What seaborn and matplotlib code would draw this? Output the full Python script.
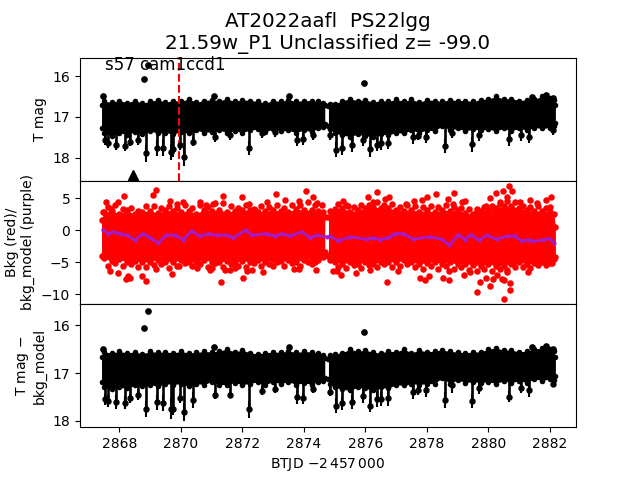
import matplotlib
matplotlib.use("Agg")
import matplotlib.pyplot as plt
import seaborn as sns

# sampled band (two runs of the light curve, split by the data gap)
t_seg1 = [2867.42, 2867.50, 2867.75, 2868.00, 2868.25, 2868.50, 2868.75, 2869.00, 2869.25, 2869.50, 2869.75,
          2870.00, 2870.25, 2870.50, 2870.75, 2871.00, 2871.25, 2871.50, 2871.75, 2872.00, 2872.25,
          2872.50, 2872.75, 2873.00, 2873.25, 2873.50, 2873.75, 2874.00, 2874.25, 2874.45, 2874.62, 2874.68]
t_seg2 = [2874.80, 2874.85, 2875.00, 2875.25, 2875.50, 2875.75, 2876.00, 2876.25, 2876.50, 2876.75, 2877.00,
          2877.25, 2877.50, 2877.75, 2878.00, 2878.25, 2878.50, 2878.75, 2879.00, 2879.25, 2879.50,
          2879.75, 2880.00, 2880.25, 2880.50, 2880.75, 2881.00, 2881.25, 2881.50, 2881.75, 2882.00, 2882.13, 2882.18]

top1_seg1 = [16.72, 16.62, 16.64, 16.60, 16.65, 16.60, 16.66, 16.62, 16.58, 16.64, 16.60,
             16.62, 16.56, 16.64, 16.60, 16.58, 16.60, 16.56, 16.62, 16.58, 16.60,
             16.62, 16.66, 16.60, 16.62, 16.58, 16.62, 16.60, 16.60, 16.62, 16.66, 16.72]
bot1_seg1 = [17.28, 17.40, 17.46, 17.38, 17.44, 17.36, 17.42, 17.34, 17.40, 17.38, 17.42,
             17.36, 17.40, 17.32, 17.38, 17.36, 17.32, 17.38, 17.34, 17.38, 17.32,
             17.30, 17.36, 17.30, 17.34, 17.33, 17.38, 17.32, 17.36, 17.28, 17.24, 17.18]
top1_seg2 = [16.74, 16.69, 16.68, 16.60, 16.56, 16.60, 16.58, 16.64, 16.60, 16.62, 16.57,
             16.62, 16.57, 16.64, 16.58, 16.60, 16.62, 16.58, 16.60, 16.60, 16.62,
             16.58, 16.56, 16.50, 16.56, 16.55, 16.60, 16.58, 16.56, 16.50, 16.54, 16.58, 16.70]
bot1_seg2 = [17.22, 17.30, 17.40, 17.44, 17.48, 17.42, 17.46, 17.48, 17.42, 17.44, 17.38,
             17.40, 17.32, 17.38, 17.32, 17.34, 17.22, 17.32, 17.28, 17.34, 17.30,
             17.32, 17.30, 17.34, 17.28, 17.34, 17.28, 17.32, 17.26, 17.28, 17.26, 17.22, 17.16]

top3_seg1 = [16.66, 16.56, 16.58, 16.55, 16.58, 16.56, 16.60, 16.55, 16.57, 16.56, 16.58,
             16.55, 16.58, 16.57, 16.55, 16.56, 16.54, 16.50, 16.56, 16.52, 16.58,
             16.60, 16.58, 16.56, 16.57, 16.54, 16.57, 16.55, 16.56, 16.58, 16.62, 16.68]
bot3_seg1 = [17.18, 17.30, 17.34, 17.30, 17.32, 17.26, 17.28, 17.24, 17.28, 17.22, 17.24,
             17.22, 17.28, 17.22, 17.24, 17.18, 17.24, 17.24, 17.20, 17.24, 17.22,
             17.18, 17.24, 17.18, 17.22, 17.18, 17.24, 17.20, 17.24, 17.18, 17.16, 17.10]
top3_seg2 = [16.70, 16.63, 16.60, 16.58, 16.50, 16.55, 16.52, 16.57, 16.58, 16.54, 16.56,
             16.50, 16.58, 16.52, 16.56, 16.54, 16.52, 16.55, 16.56, 16.58, 16.56,
             16.56, 16.50, 16.48, 16.52, 16.52, 16.56, 16.54, 16.50, 16.48, 16.50, 16.55, 16.66]
bot3_seg2 = [17.12, 17.22, 17.30, 17.34, 17.36, 17.30, 17.32, 17.36, 17.30, 17.32, 17.24,
             17.26, 17.22, 17.24, 17.22, 17.22, 17.10, 17.22, 17.14, 17.20, 17.18,
             17.20, 17.18, 17.22, 17.16, 17.20, 17.16, 17.20, 17.12, 17.16, 17.12, 17.14, 17.06]

bkg_hi_seg1 = [1.6, 2.9, 3.0, 2.6, 3.1, 2.5, 2.9, 3.0, 2.7, 3.1, 3.0,
               2.8, 3.0, 2.6, 3.2, 3.0, 3.1, 2.9, 3.0, 3.1, 3.2,
               2.8, 3.0, 3.1, 3.0, 2.9, 3.3, 3.1, 3.2, 3.0, 2.9, 2.1]
bkg_lo_seg1 = [-4.0, -4.4, -4.8, -4.5, -5.0, -4.8, -5.0, -4.9, -4.6, -4.9, -4.9,
               -4.7, -4.9, -5.0, -4.6, -4.9, -5.0, -4.8, -4.9, -4.8, -4.9,
               -4.7, -4.9, -4.6, -4.8, -4.7, -4.9, -4.6, -4.4, -4.6, -4.2, -3.4]
bkg_hi_seg2 = [2.1, 3.0, 3.3, 3.5, 2.9, 3.1, 3.4, 3.6, 3.5, 3.4, 3.2,
               3.0, 3.2, 2.9, 3.1, 2.8, 3.2, 3.0, 3.1, 2.7, 2.6,
               3.0, 3.2, 3.5, 3.7, 3.8, 3.4, 3.1, 3.0, 3.0, 2.9, 2.6, 0.5]
bkg_lo_seg2 = [-4.0, -4.6, -5.0, -5.2, -5.0, -5.2, -5.0, -5.2, -5.0, -4.9, -5.0,
               -4.7, -5.0, -5.2, -5.1, -4.9, -5.2, -5.0, -5.3, -5.2, -5.4,
               -5.5, -5.3, -5.5, -5.5, -5.2, -5.0, -5.2, -5.1, -5.0, -5.1, -4.5, -4.2]

# loose edge of the background band
t_edge = [2867.62, 2867.87, 2868.12, 2868.37, 2868.62, 2868.87, 2869.12, 2869.37, 2869.62, 2869.87,
          2870.12, 2870.37, 2870.62, 2870.87, 2871.12, 2871.37, 2871.62, 2871.87, 2872.12, 2872.37,
          2872.62, 2872.87, 2873.12, 2873.37, 2873.62, 2873.87, 2874.12, 2874.37,
          2875.12, 2875.37, 2875.62, 2875.87, 2876.12, 2876.37, 2876.62, 2876.87, 2877.12, 2877.37,
          2877.62, 2877.87, 2878.12, 2878.37, 2878.62, 2878.87, 2879.12, 2879.37, 2879.62, 2879.87,
          2880.12, 2880.37, 2880.62, 2880.87, 2881.12, 2881.37, 2881.62, 2881.87]
bkg_edge_hi = [3.6, 3.9, 3.3, 3.4, 3.0, 3.7, 3.8, 3.5, 3.7, 3.4,
               3.9, 3.5, 3.9, 3.6, 4.2, 4.3, 3.8, 3.5, 3.9, 3.3,
               3.8, 3.6, 3.9, 3.5, 4.0, 3.9, 4.4, 4.0,
               4.1, 4.0, 3.6, 3.9, 4.0, 4.4, 4.0, 4.1, 3.6, 3.9,
               3.8, 3.6, 3.8, 3.6, 4.0, 3.6, 3.5, 3.3, 3.0, 3.6,
               3.8, 4.1, 4.5, 4.4, 3.8, 3.6, 3.7, 3.4]
bkg_edge_lo = [-5.5, -5.1, -5.6, -5.2, -5.7, -5.8, -5.4, -5.2, -5.9, -5.5,
               -5.1, -5.6, -5.2, -5.7, -5.1, -5.8, -5.2, -5.5, -5.7, -5.1,
               -5.6, -5.2, -5.0, -5.5, -5.1, -5.6, -5.0, -4.9,
               -5.8, -5.9, -5.4, -5.9, -5.4, -5.8, -5.3, -5.7, -5.6, -5.2,
               -5.8, -6.0, -5.5, -6.0, -5.6, -6.1, -5.8, -6.2, -6.3, -6.0,
               -6.3, -6.0, -6.2, -5.8, -5.7, -5.9, -5.4, -5.4]

# faint excursions below the band, with error bars
t_dip = [2867.54, 2867.64, 2867.89, 2868.19, 2868.35, 2868.62, 2868.87, 2869.24, 2869.43, 2869.67,
         2869.73, 2869.97, 2870.11, 2870.41, 2871.11, 2871.60, 2872.23, 2872.63, 2873.06, 2873.77,
         2873.96, 2874.31, 2874.85, 2875.06, 2875.23, 2875.58, 2875.91, 2876.15, 2876.37, 2876.51,
         2876.75, 2877.54, 2877.72, 2877.97, 2878.59, 2878.81, 2879.48, 2879.71, 2880.68, 2881.06,
         2881.33, 2882.11]
mag1_dip = [17.56, 17.64, 17.68, 17.72, 17.60, 17.56, 17.89, 17.76, 17.76, 17.85,
            17.79, 17.68, 17.97, 17.60, 17.48, 17.44, 17.76, 17.40, 17.37, 17.56,
            17.54, 17.44, 17.44, 17.80, 17.76, 17.68, 17.56, 17.78, 17.68, 17.64,
            17.64, 17.50, 17.46, 17.50, 17.71, 17.40, 17.67, 17.44, 17.54, 17.44,
            17.50, 17.32]
err1_dip = [0.12, 0.12, 0.12, 0.12, 0.12, 0.12, 0.20, 0.20, 0.20, 0.20,
            0.18, 0.12, 0.23, 0.12, 0.12, 0.12, 0.18, 0.12, 0.12, 0.16,
            0.14, 0.12, 0.12, 0.18, 0.16, 0.18, 0.16, 0.20, 0.16, 0.16,
            0.15, 0.15, 0.11, 0.13, 0.16, 0.12, 0.18, 0.14, 0.16, 0.14,
            0.13, 0.12]
mag3_dip = [17.55, 17.58, 17.60, 17.62, 17.53, 17.46, 17.75, 17.61, 17.63, 17.74,
            17.74, 17.53, 17.82, 17.56, 17.46, 17.46, 17.76, 17.37, 17.34, 17.51,
            17.53, 17.34, 17.39, 17.68, 17.63, 17.61, 17.48, 17.68, 17.55, 17.54,
            17.53, 17.39, 17.35, 17.35, 17.56, 17.25, 17.58, 17.32, 17.49, 17.32,
            17.35, 17.22]
err3_dip = [0.12, 0.12, 0.14, 0.14, 0.09, 0.10, 0.17, 0.16, 0.17, 0.21,
            0.14, 0.10, 0.19, 0.16, 0.09, 0.07, 0.17, 0.09, 0.08, 0.13,
            0.12, 0.08, 0.09, 0.16, 0.14, 0.15, 0.15, 0.14, 0.15, 0.15,
            0.16, 0.15, 0.10, 0.15, 0.16, 0.16, 0.15, 0.12, 0.12, 0.10,
            0.16, 0.08]

# bright outliers
t_bright = [2867.48, 2868.81, 2868.94, 2871.09, 2873.53, 2875.97, 2881.43, 2881.87, 2882.11]
mag1_bright = [16.49, 16.08, 15.72, 16.48, 16.49, 16.18, 16.52, 16.46, 16.53]
mag3_bright = [16.49, 16.07, 15.71, 16.46, 16.45, 16.14, 16.46, 16.44, 16.49]

# background scatter outside the dense band
t_bkg = [2867.58, 2868.16, 2869.20, 2869.11, 2867.97, 2867.48, 2867.72, 2869.66, 2869.86, 2870.08,
         2870.62, 2870.82, 2871.04, 2871.38, 2872.00, 2872.20, 2872.41, 2872.79, 2873.10, 2873.40,
         2873.85, 2874.08, 2874.31, 2874.44, 2874.60,
         2867.71, 2867.94, 2868.21, 2868.35, 2868.29, 2868.75, 2868.88, 2869.20, 2869.72, 2869.93,
         2870.54, 2870.95, 2871.01, 2871.32, 2871.45, 2871.61, 2871.77, 2872.03, 2872.14, 2872.32,
         2872.68, 2873.01, 2873.69, 2873.85, 2874.28, 2874.41, 2874.96, 2875.09,
         2876.10, 2876.39, 2876.26, 2876.64, 2876.78, 2875.45, 2875.26, 2877.32, 2877.59, 2877.83,
         2878.01, 2878.31, 2878.70, 2878.89, 2878.86, 2879.13, 2879.24, 2879.62, 2879.92, 2880.06,
         2880.24, 2880.46, 2880.68, 2880.78, 2880.62, 2880.38, 2881.03, 2881.37, 2881.57, 2881.88,
         2882.05, 2882.02,
         2875.22, 2875.71, 2876.16, 2876.71, 2877.07, 2877.79, 2877.95, 2878.08, 2878.53, 2878.73,
         2878.73, 2879.22, 2879.40, 2879.64, 2879.73, 2879.91, 2880.06, 2880.16, 2880.29, 2880.43,
         2880.50, 2880.52, 2880.71, 2880.71, 2880.60, 2881.30, 2880.81, 2882.08]
bkg_pts = [4.32, 5.26, 6.20, 5.41, 4.32, 2.86, 3.38, 4.48, 4.16, 4.32,
           4.42, 3.90, 4.16, 5.36, 5.10, 4.16, 3.12, 4.42, 5.57, 4.69,
           4.53, 6.04, 5.10, 4.27, 3.90,
           -6.30, -6.62, -7.55, -7.40, -7.14, -7.09, -7.87, -6.10, -6.77, -5.63,
           -5.84, -6.25, -5.94, -8.02, -6.25, -6.25, -5.84, -7.40, -6.36, -6.25,
           -6.46, -5.63, -6.00, -6.00, -5.21, -6.15, -6.41, -6.36,
           5.10, 5.88, 4.42, 4.79, 5.10, 3.85, 4.58, 4.16, 4.53, 4.69,
           5.10, 5.57, 4.79, 5.73, 4.06, 4.42, 4.48, 3.38, 3.75, 4.95,
           5.73, 6.14, 6.82, 6.04, 5.21, 4.32, 4.42, 4.69, 4.27, 4.69,
           5.10, 3.64,
           -6.93, -6.62, -6.25, -8.02, -6.41, -7.40, -7.71, -7.09, -7.40, -6.30,
           -7.71, -6.93, -6.51, -9.59, -8.08, -7.40, -8.65, -7.55, -6.93, -7.61,
           -7.71, -10.68, -8.18, -9.27, -6.51, -6.46, -5.11, -5.06]

# background model
t_model = [2867.46, 2867.64, 2867.81, 2868.02, 2868.24, 2868.51, 2868.76, 2869.00, 2869.27, 2869.52,
           2869.81, 2870.08, 2870.35, 2870.62, 2870.89, 2871.17, 2871.49, 2871.71, 2872.11, 2872.32,
           2872.79, 2873.06, 2873.28, 2873.55, 2873.93, 2874.20, 2874.42, 2874.74, 2874.85, 2875.12,
           2875.50, 2876.04, 2876.26, 2876.48, 2876.75, 2876.96, 2877.23, 2877.56, 2878.10, 2878.48,
           2878.73, 2879.02, 2879.24, 2879.42, 2879.70, 2879.94, 2880.27, 2880.59, 2880.86, 2881.08,
           2881.30, 2881.46, 2881.79, 2882.00, 2882.13]
model = [0.10, -0.52, -0.26, -0.52, -0.78, -1.57, -0.52, -1.15, -1.98, -0.78,
         -0.78, -1.46, -0.11, -0.94, -0.52, -0.78, -0.78, -1.15, 0.00, -0.78,
         -0.52, -0.94, -0.52, -0.89, -0.26, -1.15, -0.78, -1.04, -0.94, -1.67,
         -1.04, -1.41, -1.15, -1.46, -1.15, -0.52, -0.52, -1.41, -1.04, -1.41,
         -2.35, -0.68, -1.46, -0.68, -1.57, -0.78, -1.41, -0.94, -0.89, -1.72,
         -1.46, -1.72, -1.46, -1.30, -1.93]

t_limit = [2868.45]
mag_limit = [18.42]
t_marker = 2869.94
x_ticks = [2868, 2870, 2872, 2874, 2876, 2878, 2880, 2882]

sns.set_style("ticks")
plt.rcParams["axes.edgecolor"] = "black"
plt.rcParams["xtick.color"] = "black"
plt.rcParams["ytick.color"] = "black"
plt.rcParams["axes.labelcolor"] = "black"
plt.rcParams["text.color"] = "black"
plt.rcParams["font.family"] = ["DejaVu Sans"]
plt.rcParams["xtick.major.size"] = 3.5
plt.rcParams["ytick.major.size"] = 3.5
plt.rcParams["xtick.major.width"] = 0.8
plt.rcParams["ytick.major.width"] = 0.8
plt.rcParams["axes.linewidth"] = 0.8
plt.rcParams["font.size"] = 10
plt.rcParams["mathtext.default"] = "regular"

fig, axes = plt.subplots(3, 1, figsize=(6.4, 4.8), dpi=100, sharex=True)
fig.subplots_adjust(hspace=0)


def draw_band(ax, t, low, high, color, size):
    """Solid band with round points along both edges"""
    ax.fill_between(t, low, high, color=color, lw=0)
    sns.scatterplot(x=t, y=high, ax=ax, color=color, s=size, linewidth=0)
    sns.scatterplot(x=t, y=low, ax=ax, color=color, s=size, linewidth=0)


def draw_mag_panel(ax, bands, spike_top, mag_dip, err_dip, mag_bright):
    for t, low, high in bands:
        draw_band(ax, t, low, high, "black", 16)
    # spikes run from the band down to each faint point
    ax.vlines(t_dip, spike_top, mag_dip, color="black", lw=1.9)
    ax.errorbar(t_dip, mag_dip, yerr=err_dip, fmt="o", ms=3.6, color="black", elinewidth=1.5)
    ax.errorbar(t_bright, mag_bright, fmt="o", ms=3.8, color="black")


# top panel
ax = axes[0]
draw_mag_panel(ax, [(t_seg1, bot1_seg1, top1_seg1), (t_seg2, bot1_seg2, top1_seg2)],
               17.2, mag1_dip, err1_dip, mag1_bright)
ax.plot(t_limit, mag_limit, "^", color="black", ms=6.5)
ax.axvline(t_marker, color="red", ls="--", lw=1.5)
ax.text(0.05, 0.9, "s57 cam1ccd1", transform=ax.transAxes, fontsize=12)
ax.set_ylim(18.56, 15.55)
ax.set_yticks([16, 17, 18])
ax.set_ylabel("T mag")

# background panel
ax = axes[1]
draw_band(ax, t_seg1, bkg_lo_seg1, bkg_hi_seg1, "red", 22)
draw_band(ax, t_seg2, bkg_lo_seg2, bkg_hi_seg2, "red", 22)
sns.scatterplot(x=t_edge, y=bkg_edge_hi, ax=ax, color="red", s=22, linewidth=0)
sns.scatterplot(x=t_edge, y=bkg_edge_lo, ax=ax, color="red", s=22, linewidth=0)
sns.scatterplot(x=t_bkg, y=bkg_pts, ax=ax, color="red", s=22, linewidth=0)
sns.lineplot(x=t_model, y=model, ax=ax, color="#a31ccc", lw=2, marker="o", ms=3,
             mew=0, sort=False, errorbar=None)
ax.set_ylim(-11.5, 7.7)
ax.set_yticks([-10, -5, 0, 5])
ax.set_ylabel("Bkg (red)/\nbkg_model (purple)")

# model-subtracted panel
ax = axes[2]
draw_mag_panel(ax, [(t_seg1, bot3_seg1, top3_seg1), (t_seg2, bot3_seg2, top3_seg2)],
               17.1, mag3_dip, err3_dip, mag3_bright)
ax.set_ylim(18.13, 15.56)
ax.set_yticks([16, 17, 18])
ax.set_ylabel("T mag $-$\nbkg_model")
ax.set_xlabel(r"BTJD $-2\,457\,000$")

axes[0].set_xlim(2866.72, 2882.85)
axes[2].set_xticks(x_ticks)
axes[0].tick_params(axis="x", bottom=False)
axes[1].tick_params(axis="x", bottom=False)

fig.suptitle("AT2022aafl  PS22lgg\n21.59w_P1 Unclassified z= -99.0", fontsize=14.3, x=0.5125, y=0.975)
fig.savefig("out.png", dpi=100)
